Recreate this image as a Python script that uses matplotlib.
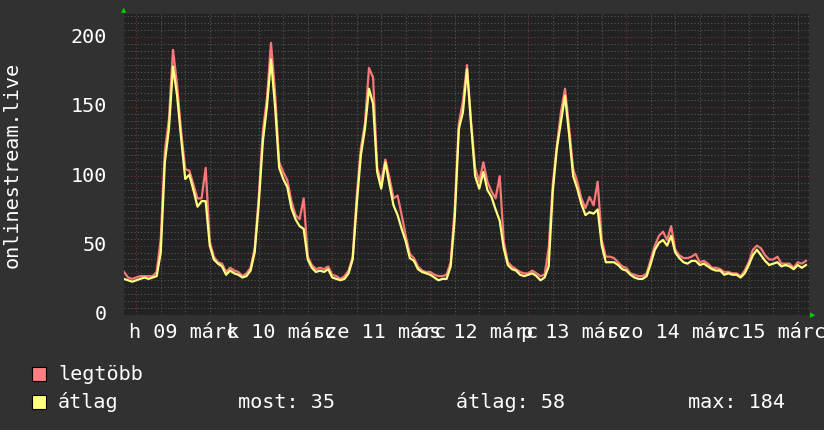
import matplotlib
matplotlib.use("Agg")
import matplotlib.pyplot as plt
import numpy as np

# hourly samples, hours counted from 09 March 00:00
start_hour = -3
avg_vals = [26, 25, 24, 25, 26, 27, 26, 27, 28, 45, 110, 134, 179, 158, 127, 98, 101, 90, 78, 82,
            82, 50, 40, 37, 35, 29, 32, 30, 29, 27, 28, 32, 45, 80, 125, 150, 184, 150, 106, 98,
            92, 77, 69, 64, 62, 40, 34, 31, 32, 31, 33, 27, 26, 25, 26, 30, 40, 80, 115, 134,
            163, 152, 103, 91, 110, 94, 79, 72, 62, 53, 41, 39, 33, 31, 30, 29, 27, 25, 26, 26,
            35, 70, 134, 146, 177, 137, 100, 91, 103, 90, 85, 76, 68, 48, 36, 33, 32, 29, 28, 29,
            30, 28, 25, 27, 35, 89, 120, 139, 158, 130, 100, 91, 80, 72, 74, 73, 76, 50, 38, 38,
            38, 36, 33, 32, 29, 27, 26, 26, 28, 37, 47, 52, 54, 50, 57, 45, 41, 38, 37, 39,
            39, 36, 37, 35, 33, 32, 32, 29, 30, 29, 29, 27, 30, 36, 43, 47, 43, 39, 36, 37,
            38, 35, 36, 35, 33, 36, 34, 36]
max_vals = [31, 27, 26, 27, 28, 28, 28, 28, 31, 55, 118, 141, 191, 166, 132, 105, 104, 94, 84, 84,
            106, 53, 42, 38, 37, 31, 34, 32, 31, 28, 30, 34, 48, 85, 132, 156, 196, 160, 110, 103,
            97, 82, 72, 69, 84, 42, 36, 33, 34, 33, 35, 29, 28, 26, 28, 32, 42, 86, 120, 138,
            178, 171, 106, 96, 112, 99, 84, 86, 72, 57, 44, 41, 35, 32, 31, 31, 29, 28, 28, 29,
            38, 77, 138, 154, 180, 139, 106, 96, 110, 96, 89, 84, 100, 53, 38, 35, 33, 31, 30, 30,
            32, 30, 28, 29, 48, 94, 122, 146, 163, 135, 105, 96, 84, 77, 85, 79, 96, 54, 42, 42,
            41, 38, 35, 34, 30, 29, 28, 28, 30, 40, 50, 57, 60, 54, 64, 47, 43, 41, 41, 42,
            44, 38, 39, 37, 34, 34, 33, 31, 31, 30, 30, 28, 32, 38, 47, 50, 48, 43, 40, 40,
            42, 37, 37, 37, 34, 38, 37, 39]

day_labels = ["h 09 márc", "k 10 márc", "sze 11 márc", "cs 12 márc",
              "p 13 márc", "szo 14 márc", "v 15 márc"]
y_ticks = [0, 50, 100, 150, 200]
series_name = "onlinestream.live"
legend_labels = ["legtöbb", "átlag"]
stat_labels = ["most: 35", "átlag: 58", "max: 184"]

BG = "#313131"
PLOT_BG = "#222222"
RED = "#f77878"
YELLOW = "#ffff80"
FONT = "DejaVu Sans Mono"
FS = 14.5

W, H = 824, 430
fig = plt.figure(figsize=(W / 100, H / 100), dpi=100, facecolor=BG)
left, right, top, bottom = 124, 809, 14, 315
ax = fig.add_axes([left / W, 1 - bottom / H, (right - left) / W, (bottom - top) / H])
ax.set_facecolor(PLOT_BG)

hours = np.arange(start_hour, start_hour + len(avg_vals))
ax.plot(hours, max_vals, color=RED, lw=1.6, zorder=3)
ax.plot(hours, avg_vals, color=YELLOW, lw=1.6, zorder=4)

ax.set_xlim(-3.0, 164.75)
ax.set_ylim(0, 216.8)

# grid: minor every 6h / 5 units, major every day / 50 units
for h in range(0, 166, 6):
    major = h % 24 == 0
    ax.axvline(h, color="#7a3434" if major else "#555555", lw=0.8,
               ls=(0, (1, 2)), zorder=1)
for v in range(5, 216, 5):
    major = v % 50 == 0
    ax.axhline(v, color="#7a3434" if major else "#555555", lw=0.8,
               ls=(0, (1, 2)), zorder=1)

ax.set_xticks([])
ax.set_yticks([])
for s in ax.spines.values():
    s.set_visible(False)

# y tick labels
for v in y_ticks:
    yp = bottom - v * (bottom - top) / 216.8
    fig.text(107 / W, 1 - yp / H, str(v), ha="right", va="center",
             color="white", fontsize=FS, family=FONT)

# x day labels (they overlap, as in the rrd output)
for i, lab in enumerate(day_labels):
    ax.text(i * 24 + 11.5, -0.058, lab, transform=ax.get_xaxis_transform(),
            ha="center", va="center", color="white", fontsize=FS, family=FONT,
            clip_on=False)

fig.text(12 / W, 1 - 165 / H, series_name, rotation=90, ha="center", va="center",
         color="white", fontsize=FS, family=FONT)

# arrows
fig.text(124 / W, 1 - 10 / H, "▲", color="#00cc00", fontsize=5, ha="center", va="center")
fig.text(813 / W, 1 - 315 / H, "▶", color="#00cc00", fontsize=5, ha="center", va="center")

# legend
for row, (lab, col) in enumerate(zip(legend_labels, ["#ff8080", YELLOW])):
    yc = 374 + row * 28
    fig.patches.append(plt.Rectangle((32 / W, 1 - (yc + 7) / H), 14 / W, 14 / H,
                                     transform=fig.transFigure, facecolor=col,
                                     edgecolor="black", lw=0.8))
    fig.text(58 / W, 1 - yc / H, lab, ha="left", va="center", color="white",
             fontsize=FS, family=FONT)
for xp, lab in zip([238, 456, 688], stat_labels):
    fig.text(xp / W, 1 - 402 / H, lab, ha="left", va="center", color="white",
             fontsize=FS, family=FONT)

fig.savefig("out.png", dpi=100, facecolor=BG)
